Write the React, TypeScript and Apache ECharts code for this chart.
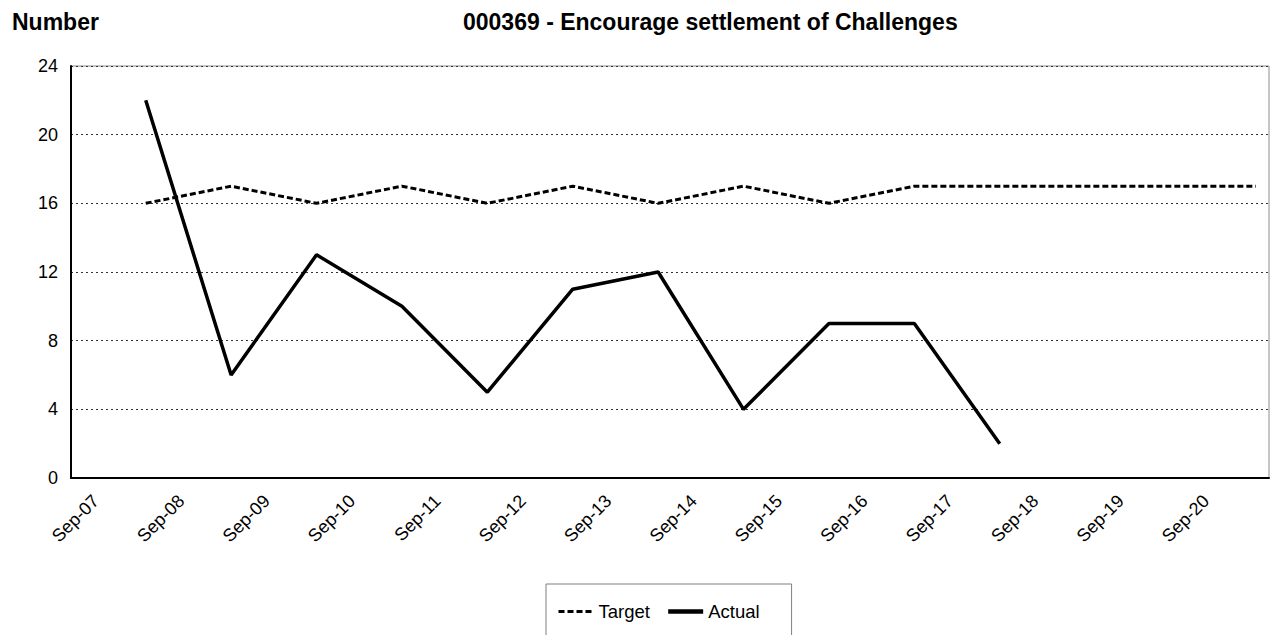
import React, { useEffect, useRef } from 'react';
import * as echarts from 'echarts';

// Data
const targetDates = [
  '2008-04-01', '2009-04-01', '2010-04-01', '2011-04-01', '2012-04-01', '2013-04-01', '2014-04-01',
  '2015-04-01', '2016-04-01', '2017-04-01', '2018-04-01', '2019-04-01', '2020-04-01', '2021-04-01',
];
const targetValues = [16, 17, 16, 17, 16, 17, 16, 17, 16, 17, 17, 17, 17, 17];

const actualDates = [
  '2008-04-01', '2009-04-01', '2010-04-01', '2011-04-01', '2012-04-01', '2013-04-01', '2014-04-01',
  '2015-04-01', '2016-04-01', '2017-04-01', '2018-04-01',
];
const actualValues = [22, 6, 13, 10, 5, 11, 12, 4, 9, 9, 2];

const tickDates = [
  '2007-09-01', '2008-09-01', '2009-09-01', '2010-09-01', '2011-09-01', '2012-09-01', '2013-09-01',
  '2014-09-01', '2015-09-01', '2016-09-01', '2017-09-01', '2018-09-01', '2019-09-01', '2020-09-01',
];
const tickLabels = [
  'Sep-07', 'Sep-08', 'Sep-09', 'Sep-10', 'Sep-11', 'Sep-12', 'Sep-13',
  'Sep-14', 'Sep-15', 'Sep-16', 'Sep-17', 'Sep-18', 'Sep-19', 'Sep-20',
];
const xAxisStart = '2007-05-16';
const xAxisEnd = '2021-05-26';

const yMin = 0;
const yMax = 24;
const yInterval = 4;

const seriesNames = ['Target', 'Actual'];
const chartTitle = '000369 - Encourage settlement of Challenges';
const yTitle = 'Number';

// months elapsed since Jan 2000 (fractional), used as a linear date scale
const monthOf = (s: string) => {
  const [y, m, d] = s.split('-').map(Number);
  return (y - 2000) * 12 + (m - 1) + (d - 1) / 30;
};

const FONT = '"Liberation Sans", Arial, sans-serif';

export default function App() {
  const ref = useRef<HTMLDivElement>(null);

  useEffect(() => {
    if (!ref.current) return;
    const chart = echarts.init(ref.current, undefined, { renderer: 'svg' });
    const tickM = tickDates.map(monthOf);

    chart.setOption({
      animation: false,
      backgroundColor: '#fff',
      textStyle: { fontFamily: FONT, color: '#000' },
      title: [
        {
          text: yTitle,
          left: 12,
          top: 10,
          padding: 0,
          textStyle: { fontFamily: FONT, fontSize: 23, fontWeight: 'bold', color: '#000' },
        },
        {
          text: chartTitle,
          left: 463,
          top: 10,
          padding: 0,
          textStyle: { fontFamily: FONT, fontSize: 23, fontWeight: 'bold', color: '#000' },
        },
      ],
      legend: {
        data: [
          { name: seriesNames[0], lineStyle: { width: 3, type: [6, 3] } },
          { name: seriesNames[1], lineStyle: { width: 4.5 } },
        ],
        left: 546,
        top: 584,
        padding: [18, 32, 60, 11],
        itemGap: 16,
        itemWidth: 35,
        itemHeight: 14,
        borderColor: '#7f7f7f',
        borderWidth: 1,
        selectedMode: false,
        itemStyle: { opacity: 0 },
        textStyle: { fontFamily: FONT, fontSize: 18.5, color: '#000' },
      },
      grid: {
        left: 71,
        right: 1,
        top: 66,
        bottom: 157,
        show: true,
        borderColor: '#8c8c8c',
        borderWidth: 1,
        backgroundColor: 'transparent',
      },
      xAxis: {
        type: 'value',
        min: monthOf(xAxisStart),
        max: monthOf(xAxisEnd),
        axisLine: { show: true, onZero: false, lineStyle: { color: '#000', width: 2 } },
        axisTick: { show: false },
        splitLine: { show: false },
        axisLabel: {
          customValues: tickM,
          rotate: 45,
          margin: 20,
          fontFamily: FONT,
          fontSize: 18,
          color: '#000',
          hideOverlap: false,
          showMinLabel: true,
          showMaxLabel: true,
          formatter: (v: number) => {
            const i = tickM.findIndex((t) => Math.abs(t - v) < 0.01);
            return i >= 0 ? tickLabels[i] : '';
          },
        },
      },
      yAxis: {
        type: 'value',
        min: yMin,
        max: yMax,
        interval: yInterval,
        axisLine: { show: true, lineStyle: { color: '#000', width: 2 } },
        axisTick: { show: false },
        axisLabel: { fontFamily: FONT, fontSize: 18, color: '#000', margin: 13 },
        splitLine: { show: true, lineStyle: { color: '#333', width: 1, type: [2, 3] } },
      },
      series: [
        {
          name: seriesNames[0],
          type: 'line',
          data: targetDates.map((d, i) => [monthOf(d), targetValues[i]]),
          symbol: 'none',
          lineStyle: { color: '#000', width: 3, type: [6, 3] },
          itemStyle: { color: '#000' },
          emphasis: { disabled: true },
          z: 3,
        },
        {
          name: seriesNames[1],
          type: 'line',
          data: actualDates.map((d, i) => [monthOf(d), actualValues[i]]),
          symbol: 'none',
          lineStyle: { color: '#000', width: 3.5 },
          itemStyle: { color: '#000' },
          emphasis: { disabled: true },
          z: 4,
        },
      ],
    });

    return () => chart.dispose();
  }, []);

  return (
    <div
      ref={ref}
      style={{ position: 'absolute', left: 0, top: 0, width: 1270, height: 635 }}
    />
  );
}
